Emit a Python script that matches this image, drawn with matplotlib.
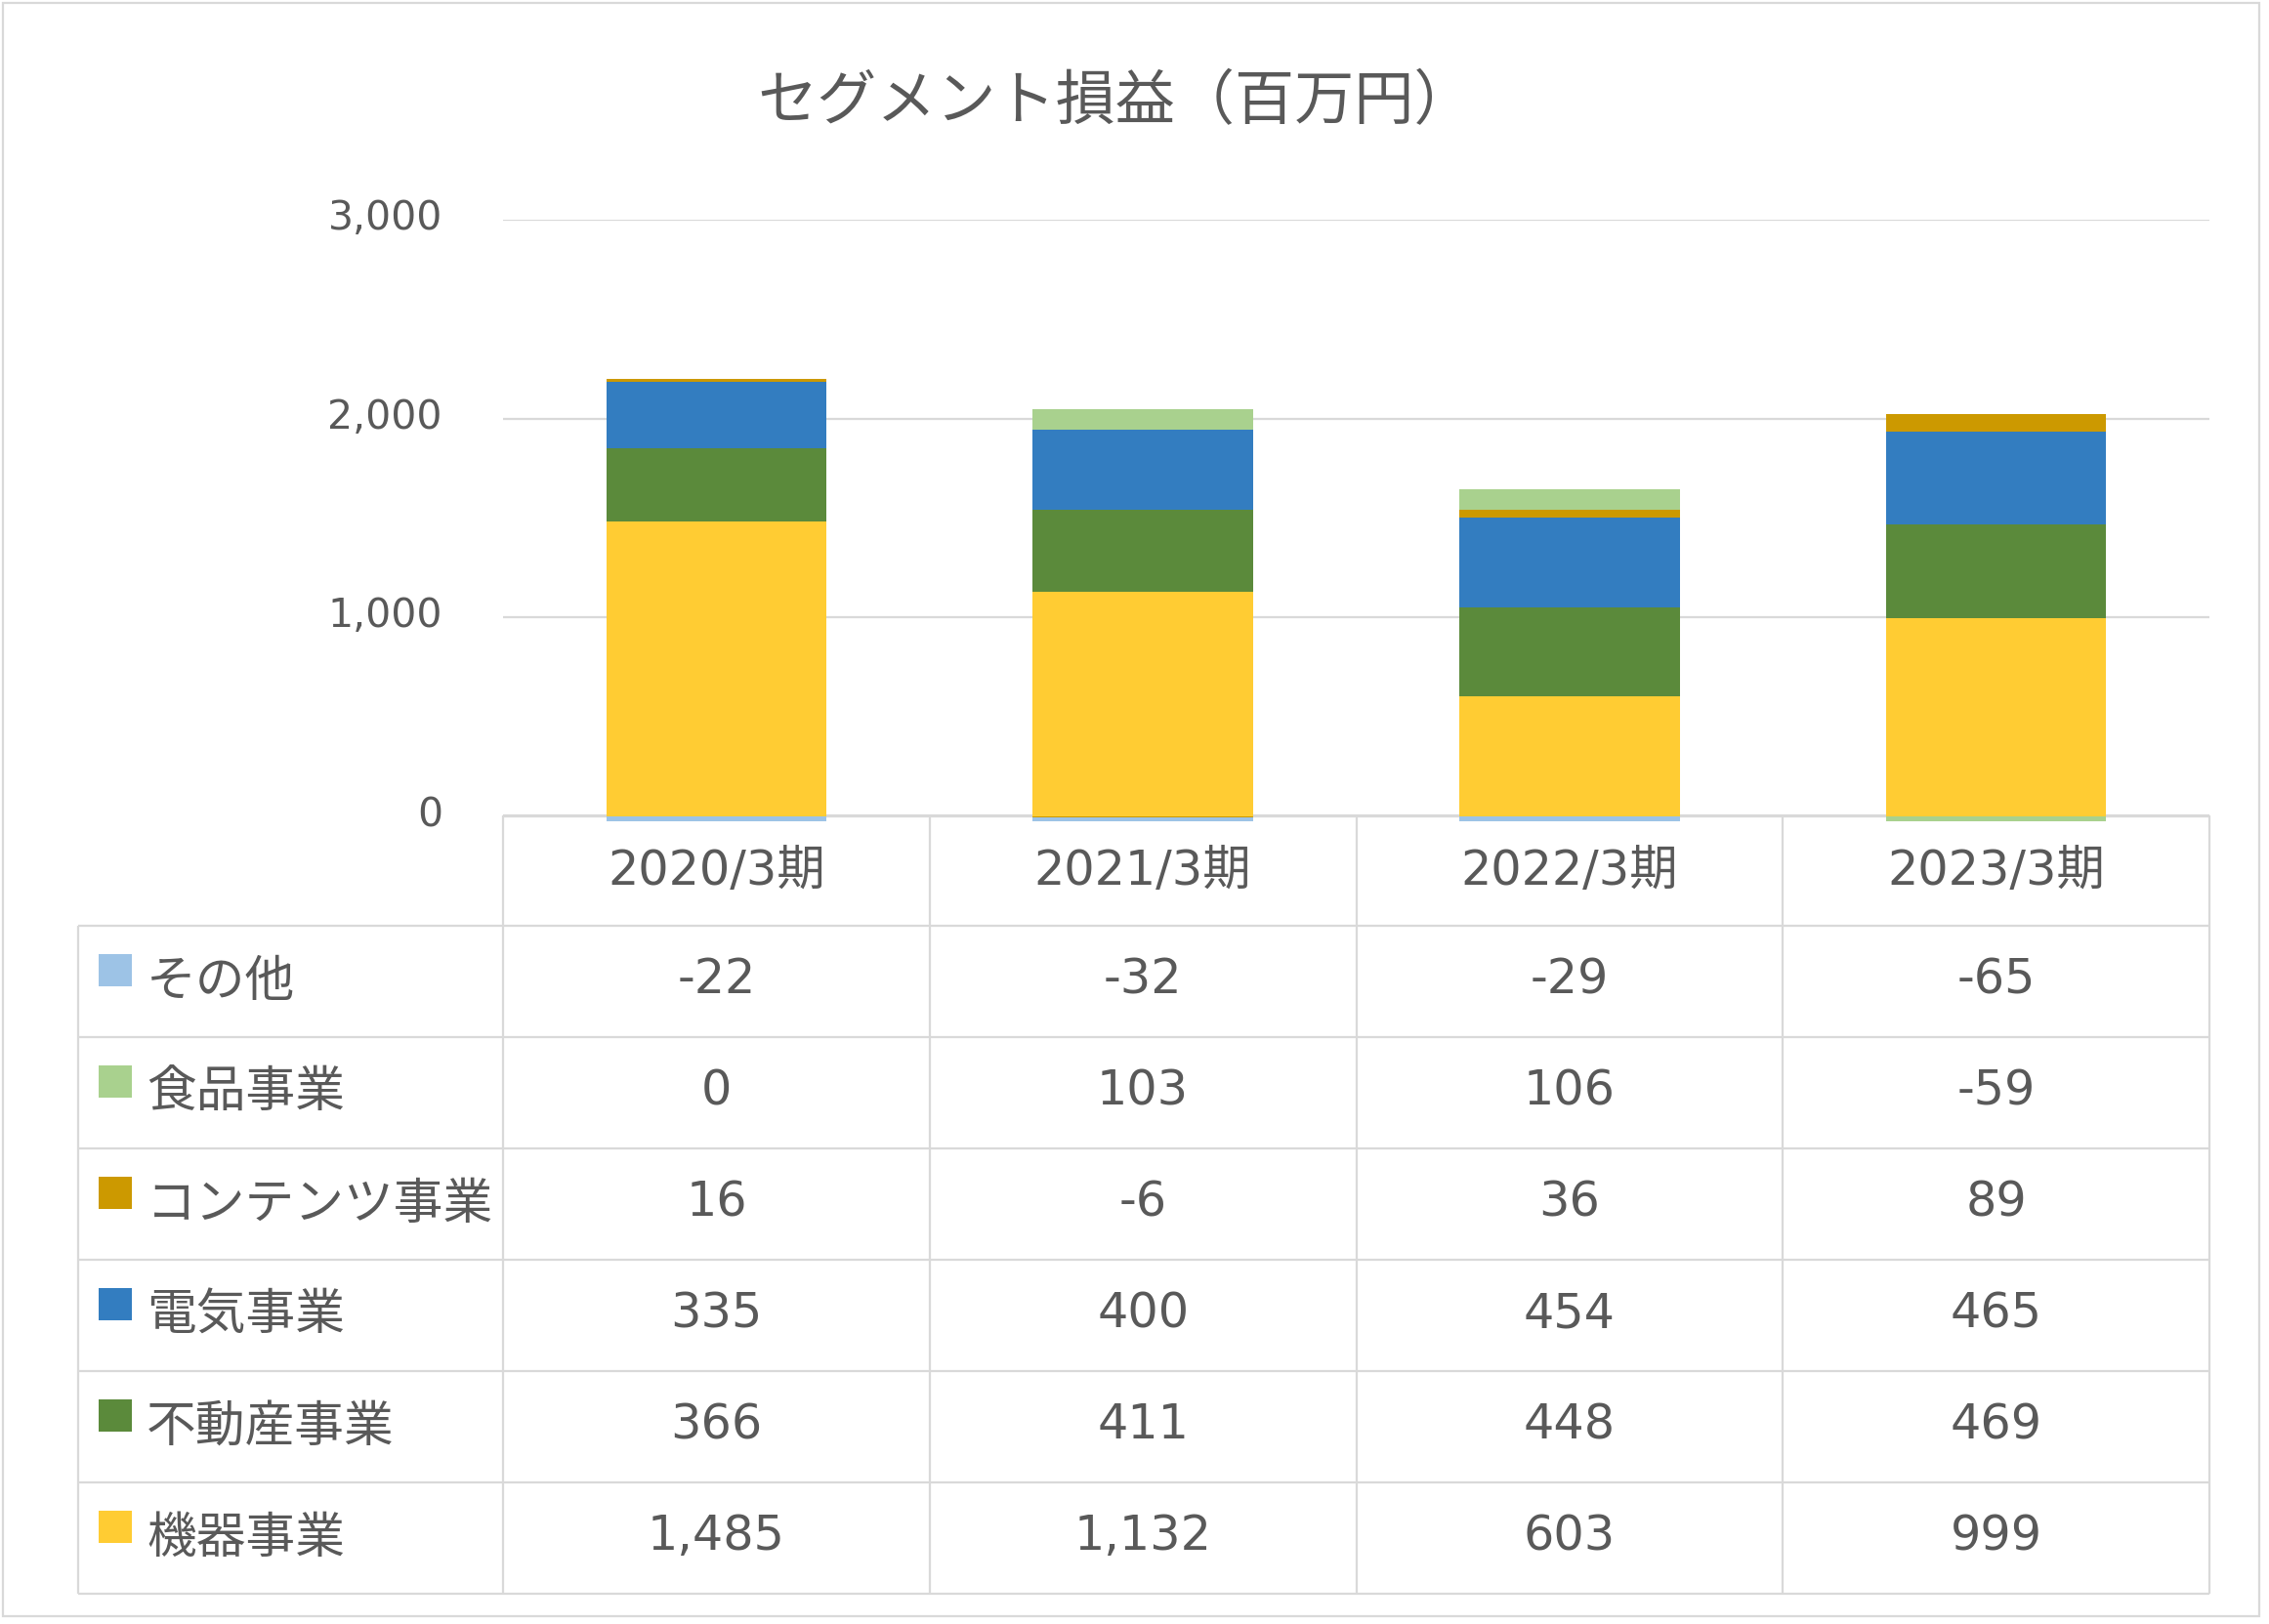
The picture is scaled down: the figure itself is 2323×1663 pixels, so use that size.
import numpy as np
import matplotlib
matplotlib.use('Agg')
import matplotlib.pyplot as plt
from matplotlib.patches import Rectangle
from matplotlib.transforms import ScaledTranslation

plt.rcParams['font.family'] = ['Noto Sans CJK JP', 'DejaVu Sans']
NUMFONT = ['DejaVu Sans', 'Noto Sans CJK JP']

# ---------------- data ----------------
categories = ['2020/3期', '2021/3期', '2022/3期', '2023/3期']
# stacking order: bottom -> top
series_names = ['機器事業', '不動産事業', '電気事業', 'コンテンツ事業', '食品事業', 'その他']
kiki = [1485, 1132, 603, 999]
fudosan = [366, 411, 448, 469]
denki = [335, 400, 454, 465]
contents = [16, -6, 36, 89]
shokuhin = [0, 103, 106, -59]
sonota = [-22, -32, -29, -65]
series_values = [kiki, fudosan, denki, contents, shokuhin, sonota]
colors = ['#FFCC33', '#5B8A3B', '#337DC0', '#CC9900', '#A9D18E', '#9DC3E6']
yticks = [0, 1000, 2000, 3000]
title = 'セグメント損益（百万円）'

TXT = '#595959'
GRID = '#D9D9D9'

W, H = 2323, 1663
fig = plt.figure(figsize=(W / 100, H / 100), dpi=100)

# layout in pixels
ax_left, ax_right = 515, 2262
y_top_val = 3000
y_top_px = 225
px_per_unit = 203.7 / 1000
ymin = -25
y_bottom_px = y_top_px + (y_top_val - ymin) * px_per_unit

# ---------------- overlay (table, frame) ----------------
ov = fig.add_axes([0, 0, 1, 1], zorder=0)
ov.set_xlim(0, W)
ov.set_ylim(H, 0)
ov.axis('off')
ov.add_patch(Rectangle((3, 3), 2310, 1652, fill=False, edgecolor=GRID, lw=1.6))

# ---------------- main axes ----------------
ax = fig.add_axes([ax_left / W, 1 - y_bottom_px / H,
                   (ax_right - ax_left) / W, (y_bottom_px - y_top_px) / H], zorder=1)
ax.patch.set_alpha(0)
x = np.arange(len(categories))
pos_base = np.zeros(len(categories))
neg_base = np.zeros(len(categories))
for name, vals, c in zip(series_names, series_values, colors):
    v = np.array(vals, dtype=float)
    bottom = np.where(v >= 0, pos_base, neg_base)
    ax.bar(x, v, width=0.516, bottom=bottom, color=c, zorder=3, label=name)
    pos_base = pos_base + np.where(v >= 0, v, 0)
    neg_base = neg_base + np.where(v < 0, v, 0)

ax.set_xlim(-0.5, len(categories) - 0.5)
ax.set_ylim(ymin, y_top_val)
ax.set_yticks(yticks)
ax.tick_params(axis='y', length=0, labelleft=False)
ax.set_xticks([])
ax.yaxis.grid(True, color=GRID, lw=1.6, zorder=0)
ax.set_axisbelow(True)
for s in ax.spines.values():
    s.set_visible(False)

# y tick labels (baseline slightly below the gridline, as in the reference)
tick_trans = ax.get_yaxis_transform() + ScaledTranslation(-62 / 100, -10 / 100, fig.dpi_scale_trans)
for v in yticks:
    ax.text(0, v, f'{v:,}', transform=tick_trans, ha='right', va='baseline',
            fontsize=29.5, color=TXT, family=NUMFONT, clip_on=False)

# ---------------- data table ----------------
ncol = len(categories)
col_w = (ax_right - ax_left) / ncol
col_edges = [ax_left + i * col_w for i in range(ncol + 1)]
col_centers = [ax_left + (i + 0.5) * col_w for i in range(ncol)]
header_top = 835
row_edges = [948, 1062, 1176, 1290, 1404, 1518, 1632]
label_left = 80

lk = dict(color=GRID, lw=1.6, solid_capstyle='butt')
ov.plot([ax_left, ax_right], [header_top, header_top], **lk)
for xe in col_edges:
    ov.plot([xe, xe], [header_top, row_edges[-1]], **lk)
ov.plot([label_left, label_left], [row_edges[0], row_edges[-1]], **lk)
for ye in row_edges:
    ov.plot([label_left, ax_right], [ye, ye], **lk)

for cx, cat in zip(col_centers, categories):
    ov.text(cx, (header_top + row_edges[0]) / 2 + 14.5, cat, ha='center', va='baseline',
            fontsize=35.5, color=TXT, family=NUMFONT)

table_order = list(range(len(series_names)))[::-1]
for r, si in enumerate(table_order):
    y0, y1 = row_edges[r], row_edges[r + 1]
    yc = (y0 + y1) / 2
    ov.add_patch(Rectangle((101, yc - 12 - 16.5), 33.5, 33, facecolor=colors[si],
                           edgecolor='none'))
    ov.text(150, yc + 0.5, series_names[si], ha='left', va='center', fontsize=36.5, color=TXT)
    for cx, v in zip(col_centers, series_values[si]):
        ov.text(cx, yc + 12, f'{v:,}', ha='center', va='baseline', fontsize=35.5,
                color=TXT, family=NUMFONT)

fig.text(1142 / W, 1 - 105 / H, title, ha='center', va='center', fontsize=44, color=TXT)

fig.savefig('out.png', dpi=100, facecolor='white')
